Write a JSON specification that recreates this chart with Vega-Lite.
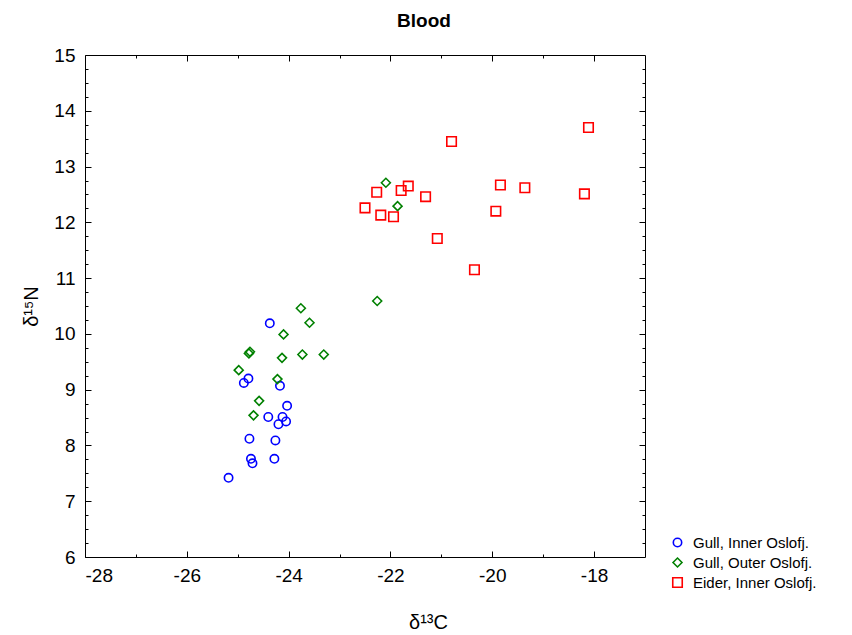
{
  "$schema": "https://vega.github.io/schema/vega-lite/v6.json",
  "autosize": "none",
  "width": 560,
  "height": 502,
  "padding": {"left": 85, "top": 55, "right": 207, "bottom": 78},
  "background": "white",
  "config": {
    "font": "Liberation Sans",
    "view": {"stroke": null},
    "axis": {"grid": false, "domainColor": "black", "tickColor": "black", "labelColor": "black", "titleColor": "black", "labelFont": "Liberation Sans", "titleFont": "Liberation Sans", "titleFontWeight": "normal"}
  },
  "title": {"text": "Blood", "fontSize": 19, "fontWeight": "bold", "anchor": "middle", "frame": "group", "dx": 59, "offset": 15, "font": "Liberation Sans"},
  "data": {"values": [
    {"g": "Gull, Inner Oslofj.", "c": -24.37, "n": 10.19},
    {"g": "Gull, Inner Oslofj.", "c": -24.79, "n": 9.20},
    {"g": "Gull, Inner Oslofj.", "c": -24.88, "n": 9.12},
    {"g": "Gull, Inner Oslofj.", "c": -24.17, "n": 9.07},
    {"g": "Gull, Inner Oslofj.", "c": -24.03, "n": 8.71},
    {"g": "Gull, Inner Oslofj.", "c": -24.40, "n": 8.51},
    {"g": "Gull, Inner Oslofj.", "c": -24.12, "n": 8.51},
    {"g": "Gull, Inner Oslofj.", "c": -24.05, "n": 8.43},
    {"g": "Gull, Inner Oslofj.", "c": -24.20, "n": 8.38},
    {"g": "Gull, Inner Oslofj.", "c": -24.77, "n": 8.12},
    {"g": "Gull, Inner Oslofj.", "c": -24.26, "n": 8.09},
    {"g": "Gull, Inner Oslofj.", "c": -24.74, "n": 7.76},
    {"g": "Gull, Inner Oslofj.", "c": -24.28, "n": 7.76},
    {"g": "Gull, Inner Oslofj.", "c": -24.71, "n": 7.68},
    {"g": "Gull, Inner Oslofj.", "c": -25.18, "n": 7.42},
    {"g": "Gull, Outer Oslofj.", "c": -23.76, "n": 10.46},
    {"g": "Gull, Outer Oslofj.", "c": -23.59, "n": 10.20},
    {"g": "Gull, Outer Oslofj.", "c": -24.10, "n": 9.99},
    {"g": "Gull, Outer Oslofj.", "c": -24.76, "n": 9.68},
    {"g": "Gull, Outer Oslofj.", "c": -24.78, "n": 9.65},
    {"g": "Gull, Outer Oslofj.", "c": -24.13, "n": 9.57},
    {"g": "Gull, Outer Oslofj.", "c": -23.73, "n": 9.63},
    {"g": "Gull, Outer Oslofj.", "c": -23.31, "n": 9.63},
    {"g": "Gull, Outer Oslofj.", "c": -24.98, "n": 9.35},
    {"g": "Gull, Outer Oslofj.", "c": -24.22, "n": 9.19},
    {"g": "Gull, Outer Oslofj.", "c": -24.58, "n": 8.80},
    {"g": "Gull, Outer Oslofj.", "c": -24.69, "n": 8.54},
    {"g": "Gull, Outer Oslofj.", "c": -22.09, "n": 12.71},
    {"g": "Gull, Outer Oslofj.", "c": -21.86, "n": 12.29},
    {"g": "Gull, Outer Oslofj.", "c": -22.26, "n": 10.59},
    {"g": "Eider, Inner Oslofj.", "c": -20.80, "n": 13.45},
    {"g": "Eider, Inner Oslofj.", "c": -18.11, "n": 13.70},
    {"g": "Eider, Inner Oslofj.", "c": -22.27, "n": 12.54},
    {"g": "Eider, Inner Oslofj.", "c": -21.79, "n": 12.57},
    {"g": "Eider, Inner Oslofj.", "c": -21.65, "n": 12.65},
    {"g": "Eider, Inner Oslofj.", "c": -21.31, "n": 12.46},
    {"g": "Eider, Inner Oslofj.", "c": -22.50, "n": 12.26},
    {"g": "Eider, Inner Oslofj.", "c": -22.19, "n": 12.13},
    {"g": "Eider, Inner Oslofj.", "c": -21.94, "n": 12.10},
    {"g": "Eider, Inner Oslofj.", "c": -19.84, "n": 12.67},
    {"g": "Eider, Inner Oslofj.", "c": -19.36, "n": 12.62},
    {"g": "Eider, Inner Oslofj.", "c": -18.19, "n": 12.51},
    {"g": "Eider, Inner Oslofj.", "c": -19.93, "n": 12.20},
    {"g": "Eider, Inner Oslofj.", "c": -21.08, "n": 11.71},
    {"g": "Eider, Inner Oslofj.", "c": -20.35, "n": 11.15}
  ]},
  "resolve": {"axis": {"x": "independent", "y": "independent"}},
  "layer": [
    {
      "mark": {"type": "point", "opacity": 0},
      "encoding": {
        "x": {"field": "c", "type": "quantitative", "scale": {"domain": [-28, -17], "nice": false, "zero": false},
          "axis": {"orient": "top", "values": [-27, -25, -23, -21, -19], "labels": false, "title": null, "tickSize": -3, "domain": true, "domainWidth": 1}},
        "y": {"field": "n", "type": "quantitative", "scale": {"domain": [6, 15], "nice": false, "zero": false},
          "axis": {"orient": "right", "values": [6.25, 6.5, 6.75, 7.25, 7.5, 7.75, 8.25, 8.5, 8.75, 9.25, 9.5, 9.75, 10.25, 10.5, 10.75, 11.25, 11.5, 11.75, 12.25, 12.5, 12.75, 13.25, 13.5, 13.75, 14.25, 14.5, 14.75], "labels": false, "title": null, "tickSize": -3, "domain": true}}
      }
    },
    {
      "mark": {"type": "point", "opacity": 0},
      "encoding": {
        "x": {"field": "c", "type": "quantitative", "axis": {"orient": "top", "values": [-26, -24, -22, -20, -18], "labels": false, "title": null, "tickSize": -6, "domain": false}},
        "y": {"field": "n", "type": "quantitative", "axis": {"orient": "right", "values": [7, 8, 9, 10, 11, 12, 13, 14], "labels": false, "title": null, "tickSize": -6, "domain": false}}
      }
    },
    {
      "mark": {"type": "point", "opacity": 0},
      "encoding": {
        "x": {"field": "c", "type": "quantitative", "axis": {"orient": "bottom", "values": [-27, -25, -23, -21, -19], "labels": false, "title": null, "tickSize": -3, "domain": false}},
        "y": {"field": "n", "type": "quantitative", "axis": {"orient": "left", "values": [6.25, 6.5, 6.75, 7.25, 7.5, 7.75, 8.25, 8.5, 8.75, 9.25, 9.5, 9.75, 10.25, 10.5, 10.75, 11.25, 11.5, 11.75, 12.25, 12.5, 12.75, 13.25, 13.5, 13.75, 14.25, 14.5, 14.75], "labels": false, "title": null, "tickSize": -3, "domain": false}}
      }
    },
    {
      "mark": {"type": "point", "filled": false, "strokeWidth": 1.6, "opacity": 1},
      "encoding": {
        "x": {"field": "c", "type": "quantitative",
          "axis": {"orient": "bottom", "values": [-28, -26, -24, -22, -20, -18], "labelExpr": "datum.value + ''", "tickSize": -6, "labelPadding": 15, "labelFontSize": 19, "title": "δ¹³C", "titleFontSize": 20, "titleX": 343, "titleY": 71, "titleBaseline": "alphabetic", "domain": true}},
        "y": {"field": "n", "type": "quantitative",
          "axis": {"orient": "left", "values": [6, 7, 8, 9, 10, 11, 12, 13, 14, 15], "labelExpr": "datum.value + ''", "tickSize": -6, "labelPadding": 16, "labelFontSize": 19, "title": "δ¹⁵N", "titleFontSize": 20, "titlePadding": 12, "domain": true}},
        "color": {"field": "g", "type": "nominal", "sort": ["Gull, Inner Oslofj.", "Gull, Outer Oslofj.", "Eider, Inner Oslofj."],
          "scale": {"domain": ["Gull, Inner Oslofj.", "Gull, Outer Oslofj.", "Eider, Inner Oslofj."], "range": ["#0000ff", "#008000", "#ff0000"]},
          "legend": {"title": null, "orient": "none", "legendX": 585, "legendY": 480, "labelFontSize": 15, "labelColor": "black", "symbolSize": 40, "symbolStrokeWidth": 1.6, "symbolOpacity": 1, "rowPadding": 3, "labelOffset": 8}},
        "shape": {"field": "g", "type": "nominal",
          "scale": {"domain": ["Gull, Inner Oslofj.", "Gull, Outer Oslofj.", "Eider, Inner Oslofj."], "range": ["circle", "diamond", "square"]},
          "legend": null},
        "size": {"field": "g", "type": "nominal",
          "scale": {"domain": ["Gull, Inner Oslofj.", "Gull, Outer Oslofj.", "Eider, Inner Oslofj."], "range": [70, 90, 52]},
          "legend": null}
      }
    }
  ]
}
